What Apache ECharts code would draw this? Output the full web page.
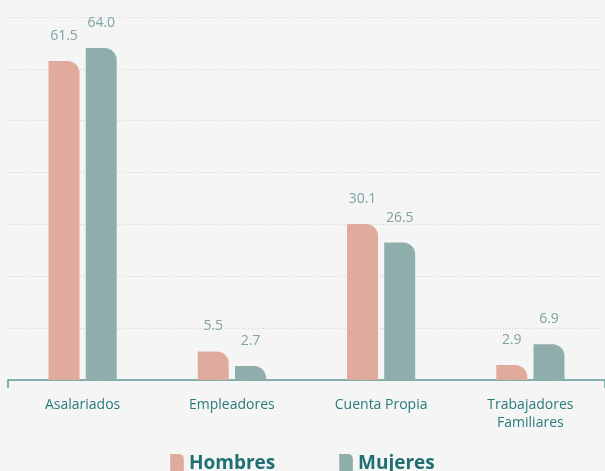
<!DOCTYPE html>
<html><head><meta charset="utf-8">
<script src="https://cdn.jsdelivr.net/npm/echarts@6/dist/echarts.min.js"></script>
<style>html,body{margin:0;padding:0;background:#f5f5f5;}#c{width:605px;height:471px;}</style>
</head><body><div id="c"></div>
<script>
const categories = ['Asalariados', 'Empleadores', 'Cuenta Propia', 'Trabajadores\nFamiliares'];
const hombres = [61.5, 5.5, 30.1, 2.9];
const mujeres = [64.0, 2.7, 26.5, 6.9];
const seriesNames = ['Hombres', 'Mujeres'];

const chart = echarts.init(document.getElementById('c'));
const font = '"Open Sans", Lato, sans-serif';
const icon = 'path://M0,0 L6,0 Q10,0 10,4 L10,14 L0,14 Z';
const labelCfg = {show: true, position: 'top', distance: 18, color: '#7fa3a2', fontSize: 14, fontFamily: font, formatter: p => p.value.toFixed(1)};
chart.setOption({
  backgroundColor: '#f5f5f5',
  animation: false,
  grid: {left: 8, right: -3, top: 17, bottom: 91, containLabel: false},
  legend: {
    bottom: -7, left: 'center', itemWidth: 14, itemHeight: 19, itemGap: 64,
    textStyle: {color: '#1f6f73', fontSize: 19, fontWeight: 'bold', fontFamily: font},
    data: [{name: seriesNames[0], icon: icon}, {name: seriesNames[1], icon: icon}]
  },
  xAxis: {
    type: 'category', data: categories,
    axisLine: {lineStyle: {color: '#5e9a97', width: 1.5}},
    axisTick: {show: true, length: 8, lineStyle: {color: '#5e9a97', width: 1.5}, interval: (i) => i === 0},
    axisLabel: {color: '#2b7a7a', fontSize: 14, fontFamily: font, margin: 16, lineHeight: 18}
  },
  yAxis: {
    type: 'value', min: 0, max: 70, interval: 10,
    axisLabel: {show: false}, axisLine: {show: false}, axisTick: {show: false},
    splitLine: {lineStyle: {color: '#cfcfcf', type: [1, 2], width: 1}}
  },
  series: [
    {name: seriesNames[0], type: 'bar', data: hombres, barWidth: 31, barGap: '20%',
     itemStyle: {color: '#e0ab9c', borderRadius: [0, 12, 0, 0]}, label: labelCfg},
    {name: seriesNames[1], type: 'bar', data: mujeres, barWidth: 31,
     itemStyle: {color: '#8fadab', borderRadius: [0, 12, 0, 0]}, label: labelCfg}
  ]
});
</script></body></html>
